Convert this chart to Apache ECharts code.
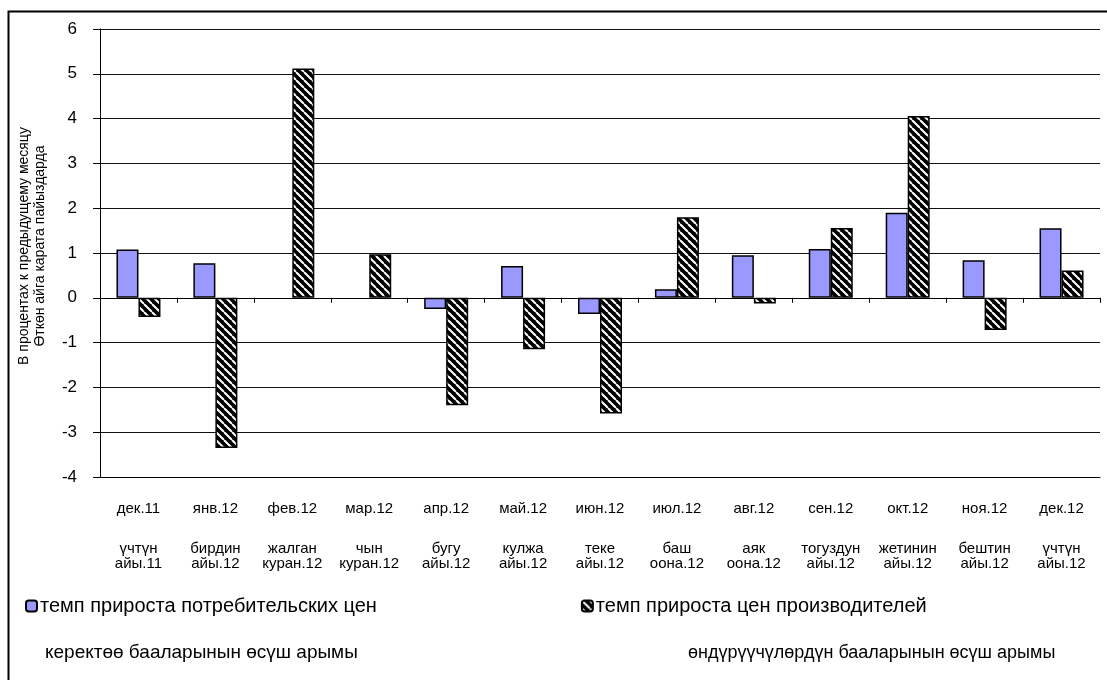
<!DOCTYPE html>
<html>
<head>
<meta charset="utf-8">
<script src="https://cdn.jsdelivr.net/npm/echarts@6/dist/echarts.min.js"></script>
<style>
  html, body { margin: 0; padding: 0; background: #fff; }
  #chart { width: 1107px; height: 680px; }
</style>
</head>
<body>
<div id="chart"></div>
<script>
// месяцы (по-русски) и их кыргызские подписи
const months = ['дек.11', 'янв.12', 'фев.12', 'мар.12', 'апр.12', 'май.12', 'июн.12',
  'июл.12', 'авг.12', 'сен.12', 'окт.12', 'ноя.12', 'дек.12']
const kgTop = ['үчтүн', 'бирдин', 'жалган', 'чын', 'бугу', 'кулжа', 'теке',
  'баш', 'аяк', 'тогуздун', 'жетинин', 'бештин', 'үчтүн']
const kgBottom = ['айы.11', 'айы.12', 'куран.12', 'куран.12', 'айы.12', 'айы.12', 'айы.12',
  'оона.12', 'оона.12', 'айы.12', 'айы.12', 'айы.12', 'айы.12']

// темп прироста, % к предыдущему месяцу (null - столбца нет)
const cpiValues = [1.08, 0.77, null, null, -0.25, 0.71, -0.36, 0.19, 0.95, 1.09, 1.90, 0.84, 1.55]
const ppiValues = [-0.43, -3.35, 5.12, 0.97, -2.40, -1.15, -2.58, 1.80, -0.13, 1.56, 4.06, -0.72, 0.61]

const seriesNames = ['темп прироста потребительских цен', 'темп прироста цен производителей']
const seriesNamesKg = ['керектөө бааларынын өсүш арымы', 'өндүрүүчүлөрдүн бааларынын өсүш арымы']

const font = '"Liberation Sans", Arial, sans-serif'

// штриховка для второго ряда (белые диагонали на черном)
function makeHatch() {
  const c = document.createElement('canvas')
  c.width = 8
  c.height = 8
  const ctx = c.getContext('2d')
  ctx.fillStyle = '#000'
  ctx.fillRect(0, 0, 8, 8)
  ctx.strokeStyle = '#fff'
  ctx.lineWidth = 2
  for (const k of [-8, 0, 8]) {
    ctx.beginPath()
    ctx.moveTo(k, 0)
    ctx.lineTo(k + 8, 8)
    ctx.stroke()
  }
  return c
}

const chart = echarts.init(document.getElementById('chart'))

const option = {
  animation: false,
  backgroundColor: '#fff',
  textStyle: { fontFamily: font, color: '#000' },
  grid: { left: 100, right: 7, top: 29, bottom: 203 },
  legend: {
    left: 20,
    top: 591,
    itemWidth: 11,
    itemHeight: 11,
    itemGap: 204,
    textStyle: { fontSize: 20, color: '#000', fontFamily: font, padding: [0, 0, 0, -2] },
    data: seriesNames
  },
  xAxis: [
    {
      type: 'category',
      data: months,
      position: 'bottom',
      axisLine: { onZero: false, lineStyle: { color: '#000', width: 1 } },
      axisTick: { show: false },
      axisLabel: {
        margin: 23,
        interval: 0,
        formatter: (v, i) => `{a|${v}}\n{s| }\n{b|${kgTop[i]}}\n{b|${kgBottom[i]}}`,
        rich: {
          a: { fontSize: 15, lineHeight: 18, fontFamily: font, color: '#000' },
          s: { fontSize: 10, lineHeight: 23, fontFamily: font },
          b: { fontSize: 15, lineHeight: 15, fontFamily: font, color: '#000' }
        }
      }
    },
    {
      // линия нуля с засечками
      type: 'category',
      data: months,
      position: 'top',
      axisLine: { onZero: true, lineStyle: { color: '#000', width: 1 } },
      axisTick: { show: true, inside: true, length: 5, lineStyle: { color: '#000' } },
      axisLabel: { show: false }
    }
  ],
  yAxis: {
    type: 'value',
    min: -4,
    max: 6,
    interval: 1,
    name: 'В процентах к предыдущему месяцу\nӨткөн айга карата пайыздарда',
    nameLocation: 'middle',
    nameGap: 52,
    nameRotate: 90,
    nameTextStyle: { fontSize: 14, lineHeight: 16, color: '#000', fontFamily: font, padding: [0, 0, 0, 14] },
    axisLine: { show: true, lineStyle: { color: '#000', width: 1 } },
    axisTick: { show: true, length: 7, lineStyle: { color: '#000' } },
    axisLabel: { fontSize: 17, margin: 23, color: '#000' },
    splitLine: { lineStyle: { color: '#111', width: 1 } }
  },
  series: [
    {
      name: seriesNames[0],
      type: 'bar',
      data: cpiValues,
      barWidth: 22,
      barGap: '0%',
      itemStyle: { color: '#9999ff', borderColor: '#000', borderWidth: 1.5 }
    },
    {
      name: seriesNames[1],
      type: 'bar',
      data: ppiValues,
      barWidth: 22,
      barGap: '0%',
      itemStyle: {
        color: { image: makeHatch(), repeat: 'repeat' },
        borderColor: '#000',
        borderWidth: 1.5
      }
    }
  ],
  graphic: [
    {
      type: 'rect',
      left: 6,
      top: 9,
      shape: { width: 1200, height: 800 },
      style: { fill: 'none', stroke: '#000', lineWidth: 2 },
      silent: true
    },
    {
      type: 'text',
      left: 45,
      top: 643,
      style: { text: seriesNamesKg[0], fontSize: 19, fill: '#000', fontFamily: font }
    },
    {
      type: 'text',
      left: 688,
      top: 644,
      style: { text: seriesNamesKg[1], fontSize: 18, fill: '#000', fontFamily: font }
    }
  ]
}

chart.setOption(option)
</script>
</body>
</html>
